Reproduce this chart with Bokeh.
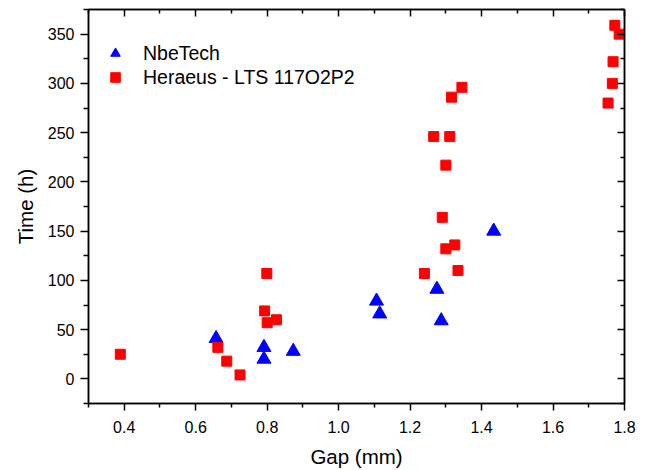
from bokeh.plotting import figure
from bokeh.models import (LinearAxis, FixedTicker, Range1d, Legend, LegendItem,
                          ColumnDataSource, PrintfTickFormatter)
from bokeh.embed import file_html
from bokeh.resources import INLINE

# --- data ---
nbe_gap = [0.657, 0.791, 0.791, 0.873, 1.106, 1.115, 1.275, 1.287, 1.434]
nbe_time = [41, 32, 20, 28, 79, 66, 91, 59, 150]

her_gap = [0.389, 0.662, 0.687, 0.724, 0.793, 0.799, 0.800, 0.826,
           1.240, 1.266, 1.290, 1.300, 1.300, 1.311, 1.316, 1.325, 1.334, 1.345,
           1.754, 1.766, 1.768, 1.773, 1.785]
her_time = [25, 32, 18, 4, 69, 107, 57, 60,
            107, 246, 164, 217, 132, 246, 286, 136, 110, 296,
            280, 300, 322, 359, 350]

x_major = [0.4, 0.6, 0.8, 1.0, 1.2, 1.4, 1.6, 1.8]
x_minor = [0.3, 0.5, 0.7, 0.9, 1.1, 1.3, 1.5, 1.7]
y_major = [0, 50, 100, 150, 200, 250, 300, 350]
y_minor = [-25, 25, 75, 125, 175, 225, 275, 325, 375]

x_label = "Gap (mm)"
y_label = "Time (h)"
name_nbe = "NbeTech"
name_her = "Heraeus - LTS 117O2P2"

FONT = "Liberation Sans"

p = figure(frame_width=536, frame_height=394, output_backend="svg",
           toolbar_location=None, x_range=Range1d(0.3, 1.8),
           y_range=Range1d(-25, 375), x_axis_location=None, y_axis_location=None,
           min_border_left=0, min_border_right=0, min_border_top=0, min_border_bottom=0)
p.background_fill_color = "white"
p.border_fill_color = "white"
p.outline_line_color = "black"
p.outline_line_width = 1.5
p.xgrid.visible = False
p.ygrid.visible = False


def style_axis(ax, labels=True, inward=False):
    ax.axis_line_width = 1.5
    ax.axis_line_color = "black"
    ax.major_tick_line_width = 1.5
    ax.minor_tick_line_width = 1.5
    ax.major_tick_line_color = "black"
    ax.minor_tick_line_color = "black"
    if inward:
        ax.major_tick_in = 7
        ax.major_tick_out = 0
        ax.minor_tick_in = 4
        ax.minor_tick_out = 0
    else:
        ax.major_tick_in = 0
        ax.major_tick_out = 7
        ax.minor_tick_in = 0
        ax.minor_tick_out = 4
    ax.major_label_text_font = FONT
    ax.major_label_text_font_size = "16px"
    ax.major_label_text_color = "black"
    ax.axis_label_text_font = FONT
    ax.axis_label_text_font_size = "20.5px"
    ax.axis_label_text_font_style = "normal"
    ax.axis_label_text_color = "black"
    if not labels:
        ax.major_label_text_font_size = "0px"
        ax.major_label_text_color = None
        ax.major_label_standoff = 0


xb = LinearAxis(ticker=FixedTicker(ticks=x_major, minor_ticks=x_minor),
                axis_label=x_label, formatter=PrintfTickFormatter(format="%.1f"))
style_axis(xb)
xb.major_label_standoff = 10
xb.axis_label_standoff = 9
p.add_layout(xb, "below")

yl = LinearAxis(ticker=FixedTicker(ticks=y_major, minor_ticks=y_minor), axis_label=y_label)
style_axis(yl)
yl.major_tick_out = 8
yl.minor_tick_out = 5
yl.major_label_standoff = 6
yl.axis_label_standoff = 8
p.add_layout(yl, "left")

xt = LinearAxis(ticker=FixedTicker(ticks=x_major, minor_ticks=x_minor))
style_axis(xt, labels=False, inward=True)
p.add_layout(xt, "above")

yr = LinearAxis(ticker=FixedTicker(ticks=y_major, minor_ticks=y_minor))
style_axis(yr, labels=False, inward=True)
p.add_layout(yr, "right")

src_nbe = ColumnDataSource(dict(x=nbe_gap, y=nbe_time))
src_her = ColumnDataSource(dict(x=her_gap, y=her_time))

r_nbe = p.scatter("x", "y", source=src_nbe, marker="triangle", size=14,
                  fill_color="#0000FF", line_color="#0000FF")
r_her = p.scatter("x", "y", source=src_her, marker="square", size=10,
                  fill_color="#FF0000", line_color="#FF0000")

legend = Legend(items=[LegendItem(label=name_nbe, renderers=[r_nbe]),
                       LegendItem(label=name_her, renderers=[r_her])],
                location=(13, 314))
legend.border_line_color = None
legend.background_fill_alpha = 0
legend.label_text_font = FONT
legend.label_text_font_size = "19.5px"
legend.label_text_color = "black"
legend.glyph_width = 28
legend.glyph_height = 24
legend.label_height = 24
legend.spacing = 0
legend.padding = 0
legend.margin = 0
legend.label_standoff = 14
p.add_layout(legend, "center")

p.min_border_left = 88
p.min_border_top = 9
p.min_border_right = 25
p.min_border_bottom = 67

open("out.html", "w").write(file_html(p, INLINE))
